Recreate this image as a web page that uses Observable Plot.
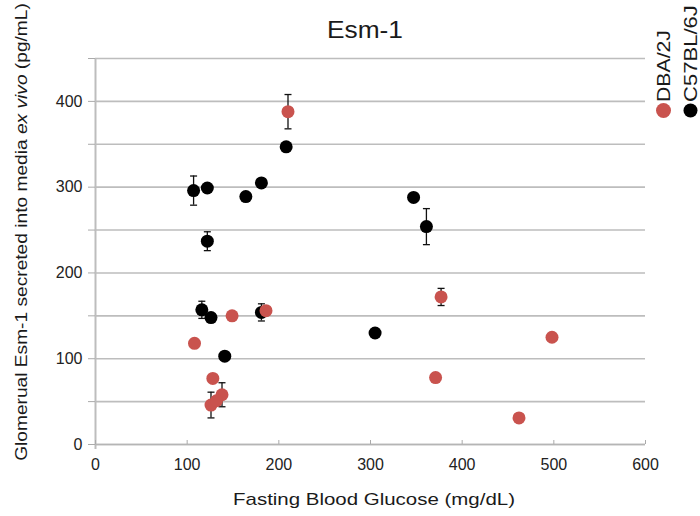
<!DOCTYPE html>
<html>
<head>
<meta charset="utf-8">
<script src="https://cdn.jsdelivr.net/npm/d3@7"></script>
<script src="https://cdn.jsdelivr.net/npm/@observablehq/plot@0.6"></script>
<style>
  html, body { margin: 0; padding: 0; background: #fff; }
  svg { display: block; }
</style>
</head>
<body>
<script>
// ---- data ----
const title = "Esm-1";
const xLabel = "Fasting Blood Glucose (mg/dL)";
const yLabelParts = [
  { text: "Glomerual Esm-1 secreted into media ", italic: false },
  { text: "ex vivo", italic: true },
  { text: " (pg/mL)", italic: false }
];
const seriesNames = ["DBA/2J", "C57BL/6J"];
const seriesColors = ["#c9534e", "#000000"];

const xTicks = [0, 100, 200, 300, 400, 500, 600];
const yGrid = [0, 50, 100, 150, 200, 250, 300, 350, 400, 450];
const yLabels = [0, 100, 200, 300, 400];

// DBA/2J
const dbaGlucose = [210, 149, 186, 108, 128, 138, 126, 132, 377, 371, 498, 462];
const dbaEsm1    = [388, 150, 156, 118,  77,  58,  46,  51, 172,  78, 125,  31];
const dbaSEM     = [ 20,   0,   0,   0,   0,  14,  15,   0,  10,   5,   0,   0];

// C57BL/6J
const c57Glucose = [208, 107, 122, 164, 181, 122, 116, 126, 181, 305, 141, 347, 361];
const c57Esm1    = [347, 296, 299, 289, 305, 237, 157, 148, 154, 130, 103, 288, 254];
const c57SEM     = [  0,  17,   0,   0,   0,  11,  10,   0,  10,   0,   0,   0,  21];

// ---- tables ----
const dbaRows = dbaGlucose.map((x, i) => ({ x, y: dbaEsm1[i], sd: dbaSEM[i] }));
const c57Rows = c57Glucose.map((x, i) => ({ x, y: c57Esm1[i], sd: c57SEM[i] }));
const errRows = [...dbaRows, ...c57Rows].filter(d => d.sd > 0);
const capRows = errRows.flatMap(d => [{ x: d.x, y: d.y - d.sd }, { x: d.x, y: d.y + d.sd }]);

const capSymbol = {
  draw(ctx) { ctx.moveTo(-3.5, 0); ctx.lineTo(3.5, 0); }
};

const plot = Plot.plot({
  width: 700,
  height: 516,
  marginLeft: 95,
  marginRight: 55,
  marginTop: 58,
  marginBottom: 72,
  style: { fontFamily: "'Liberation Sans', Arial, sans-serif", fontSize: "16px", background: "#fff", color: "#222" },
  x: { domain: [0, 600], label: null },
  y: { domain: [0, 450], label: null },
  marks: [
    Plot.gridY(yGrid, { stroke: "#bdbdbd", strokeOpacity: 1, strokeWidth: 1.6 }),
    Plot.ruleX([0], { stroke: "#bdbdbd", strokeWidth: 2, insetBottom: -5 }),
    Plot.ruleY([0], { stroke: "#b5b5b5", strokeWidth: 1.6 }),
    Plot.axisY(yGrid, { tickFormat: d => yLabels.includes(d) ? d : "", tickSize: 7, tickPadding: 6, stroke: "#aaa", fill: "#222", label: null }),
    Plot.axisX(xTicks, { tickSize: 0, tickPadding: 14, fill: "#222", label: null }),
    Plot.axisX(xTicks, { tickSize: 4, dy: -4, tickFormat: () => "", stroke: "#aaa", label: null }),
    Plot.ruleX(errRows, { x: "x", y1: d => d.y - d.sd, y2: d => d.y + d.sd, stroke: "#111", strokeWidth: 1.3 }),
    Plot.dot(capRows, { x: "x", y: "y", symbol: capSymbol, stroke: "#111", strokeWidth: 1.3, fill: "none" }),
    Plot.dot(c57Rows, { x: "x", y: "y", r: 6.5, fill: seriesColors[1] }),
    Plot.dot(dbaRows, { x: "x", y: "y", r: 6.5, fill: seriesColors[0] }),
    // legend markers
    Plot.dot([seriesNames[0]], { frameAnchor: "top-right", dx: 18, dy: 52, r: 7.5, fill: seriesColors[0] }),
    Plot.dot([seriesNames[1]], { frameAnchor: "top-right", dx: 45, dy: 52, r: 7, fill: seriesColors[1] })
  ]
});

document.body.appendChild(plot);
const svg = d3.select(plot);

function addText(parts, { x, y, size, anchor, rotate = 0, target, fill = "#1a1a1a" }) {
  const t = svg.append("text")
    .attr("font-size", size)
    .attr("fill", fill)
    .attr("text-anchor", anchor);
  parts.forEach(p => t.append("tspan").attr("font-style", p.italic ? "italic" : null).text(p.text));
  const len = t.node().getComputedTextLength();
  const s = target ? target / len : 1;
  t.attr("transform", `translate(${x},${y}) rotate(${rotate}) scale(${s},1)`);
}

addText([{ text: title }], { x: 365, y: 37.5, size: 24, anchor: "middle", target: 76 });
addText([{ text: xLabel }], { x: 374, y: 505, size: 16, anchor: "middle", target: 282 });
addText(yLabelParts, { x: 27, y: 232, size: 16, anchor: "middle", rotate: -90, target: 458 });
addText([{ text: seriesNames[0] }], { x: 670, y: 102, size: 18, anchor: "start", rotate: -90, target: 72 });
addText([{ text: seriesNames[1] }], { x: 697, y: 102, size: 18, anchor: "start", rotate: -90, target: 97 });
</script>
</body>
</html>
